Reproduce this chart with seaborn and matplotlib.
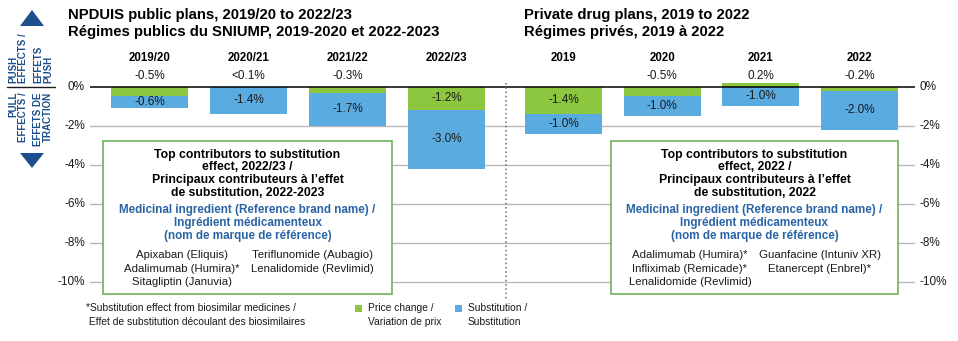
import matplotlib
matplotlib.use("Agg")
import matplotlib.pyplot as plt
import matplotlib.transforms as mtransforms
import seaborn as sns
import pandas as pd
from matplotlib.patches import Rectangle, Polygon
from matplotlib.lines import Line2D

# ---------------- data ----------------
public_periods = ["2019/20", "2020/21", "2021/22", "2022/23"]
public_price = [-0.5, 0.0, -0.3, -1.2]
public_subst = [-0.6, -1.4, -1.7, -3.0]

private_periods = ["2019", "2020", "2021", "2022"]
private_price = [-1.4, -0.5, 0.2, -0.2]
private_subst = [-1.0, -1.0, -1.0, -2.0]

y_ticks = [0, -2, -4, -6, -8, -10]
y_tick_labels = ["0%", "-2%", "-4%", "-6%", "-8%", "-10%"]

public_title = ["NPDUIS public plans, 2019/20 to 2022/23",
                "Régimes publics du SNIUMP, 2019-2020 et 2022-2023"]
private_title = ["Private drug plans, 2019 to 2022",
                 "Régimes privés, 2019 à 2022"]

public_box_title = ["Top contributors to substitution", "effect, 2022/23 /",
                    "Principaux contributeurs à l’effet", "de substitution, 2022-2023"]
private_box_title = ["Top contributors to substitution", "effect, 2022 /",
                     "Principaux contributeurs à l’effet", "de substitution, 2022"]
box_subtitle = ["Medicinal ingredient (Reference brand name) /",
                "Ingrédient médicamenteux", "(nom de marque de référence)"]
public_drugs_left = ["Apixaban (Eliquis)", "Adalimumab (Humira)*", "Sitagliptin (Januvia)"]
public_drugs_right = ["Teriflunomide (Aubagio)", "Lenalidomide (Revlimid)"]
private_drugs_left = ["Adalimumab (Humira)*", "Infliximab (Remicade)*", "Lenalidomide (Revlimid)"]
private_drugs_right = ["Guanfacine (Intuniv XR)", "Etanercept (Enbrel)*"]

footnote = ["*Substitution effect from biosimilar medicines /",
            " Effet de substitution découlant des biosimilaires"]
legend_price = ["Price change /", "Variation de prix"]
legend_subst = ["Substitution /", "Substitution"]

# ---------------- style ----------------
GREEN = "#8dc63f"
BLUE = "#5aace0"
NAVY = "#1d4f8c"
BOXBLUE = "#2a64a6"
BOXGREEN = "#79b86a"
GRID = "#b8b8b8"
TXT = "#1a1a1a"

sns.set_theme(style="white")
plt.rcParams["font.family"] = ["Liberation Sans", "DejaVu Sans"]

W, H = 958, 341
fig = plt.figure(figsize=(W / 100, H / 100), dpi=100)
fig.patch.set_facecolor("white")


def fx(x):
    return x / W


def fy(y):
    return 1 - y / H


Y0, S = 86.7, 19.5  # pixel of 0% and pixels per percentage point


def yv(py):
    return (Y0 - py) / S


ax_top, ax_bot = 70, 300
axL = fig.add_axes([fx(90), fy(ax_bot), (506 - 90) / W, (ax_bot - ax_top) / H])
axR = fig.add_axes([fx(506), fy(ax_bot), (915 - 506) / W, (ax_bot - ax_top) / H])
XL = (-0.601, 3.601)
XR = (-0.583, 3.562)


def fmt(v):
    if abs(v) < 0.1:
        return "<0.1%"
    return f"{v:.1f}%"


def draw_panel(ax, periods, price, subst):
    df = pd.DataFrame({"period": periods, "price": price, "subst": subst})
    df["total"] = df["price"].clip(upper=0) + df["subst"]
    sns.barplot(data=df, x="period", y="total", order=periods, color=BLUE,
                saturation=1, width=0.78, errorbar=None, linewidth=0, ax=ax, zorder=2)
    sns.barplot(data=df, x="period", y="price", order=periods, color=GREEN,
                saturation=1, width=0.78, errorbar=None, linewidth=0, ax=ax, zorder=2)
    for i, row in df.iterrows():
        ax.text(i, yv(58), row["period"], ha="center", va="center",
                fontsize=8.3, fontweight="bold", color="black", clip_on=False)
        if abs(row["price"]) >= 1.0:
            ax.text(i, row["price"] / 2, fmt(row["price"]), ha="center", va="center",
                    fontsize=8.5, color=TXT, zorder=4)
        else:
            ax.text(i, yv(76), fmt(row["price"]), ha="center", va="center",
                    fontsize=8.5, color=TXT, clip_on=False)
        mid = (min(row["price"], 0) + row["total"]) / 2
        ax.text(i, mid, fmt(row["subst"]), ha="center", va="center",
                fontsize=8.5, color=TXT, zorder=4)


draw_panel(axL, public_periods, public_price, public_subst)
draw_panel(axR, private_periods, private_price, private_subst)
axL.set_xlim(*XL)
axR.set_xlim(*XR)

for ax in (axL, axR):
    ax.set_ylim(yv(ax_bot), yv(ax_top))
    ax.set_xlabel("")
    ax.set_ylabel("")
    ax.set_xticks([])
    ax.set_yticks([])
    for sp in ax.spines.values():
        sp.set_visible(False)
    ax.patch.set_alpha(0)
    for t in y_ticks:
        if t == 0:
            ax.axhline(t, color="black", lw=1.1, zorder=3)
        else:
            ax.axhline(t, color=GRID, lw=1.0, zorder=0.5)

# y tick labels (left on public panel, right on private panel)
offL = mtransforms.offset_copy(axL.get_yaxis_transform(), fig=fig, x=-5, y=0, units="dots")
offR = mtransforms.offset_copy(axR.get_yaxis_transform(), fig=fig, x=5, y=0, units="dots")
for t, lab in zip(y_ticks, y_tick_labels):
    axL.text(0, t, lab, transform=offL, ha="right", va="center", fontsize=8.5,
             color=TXT, clip_on=False)
    axR.text(1, t, lab, transform=offR, ha="left", va="center", fontsize=8.5,
             color=TXT, clip_on=False)

# dotted divider
xl = axR.get_xlim()[0]
axR.plot([xl, xl], [yv(83), yv(ax_bot)], ls=(0, (1, 1.8)), color="#4a6f9a",
         lw=1.1, clip_on=False, zorder=3)

# ---------------- titles ----------------
for k, line in enumerate(public_title):
    fig.text(fx(68), fy(15 + 17 * k), line, ha="left", va="center",
             fontsize=10.7, fontweight="bold", color="black")
for k, line in enumerate(private_title):
    fig.text(fx(524), fy(15 + 17 * k), line, ha="left", va="center",
             fontsize=10.7, fontweight="bold", color="black")


# ---------------- boxes ----------------
def draw_box(x0, x1, title, left_col, right_col, lc, rc):
    y0, y1 = 141, 294
    fig.add_artist(Rectangle((fx(x0), fy(y1)), (x1 - x0) / W, (y1 - y0) / H,
                             transform=fig.transFigure, facecolor="white",
                             edgecolor=BOXGREEN, lw=1.3, zorder=5))
    cx = (x0 + x1) / 2
    for k, line in enumerate(title):
        fig.text(fx(cx), fy(155 + 12.5 * k), line, ha="center", va="center",
                 fontsize=8.8, fontweight="bold", color="black", zorder=6)
    for k, line in enumerate(box_subtitle):
        fig.text(fx(cx), fy(210 + 13 * k), line, ha="center", va="center",
                 fontsize=8.4, fontweight="bold", color=BOXBLUE, zorder=6)
    for k, line in enumerate(left_col):
        fig.text(fx(lc), fy(255 + 13.5 * k), line, ha="center", va="center",
                 fontsize=8.2, color=TXT, zorder=6)
    for k, line in enumerate(right_col):
        fig.text(fx(rc), fy(255 + 13.5 * k), line, ha="center", va="center",
                 fontsize=8.2, color=TXT, zorder=6)


draw_box(103, 392, public_box_title, public_drugs_left, public_drugs_right, 182, 312)
draw_box(611, 898, private_box_title, private_drugs_left, private_drugs_right, 690, 820)

# ---------------- footnote & legend ----------------
for k, line in enumerate(footnote):
    fig.text(fx(86), fy(308 + 14 * k), line, ha="left", va="center",
             fontsize=7.4, color=TXT)
for sx, col, lines in ((358, GREEN, legend_price), (458, BLUE, legend_subst)):
    fig.add_artist(Rectangle((fx(sx - 3.5), fy(308 + 3.5)), 7 / W, 7 / H,
                             transform=fig.transFigure, facecolor=col,
                             edgecolor="none", zorder=5))
    for k, line in enumerate(lines):
        fig.text(fx(sx + 10), fy(308 + 14 * k), line, ha="left", va="center",
                 fontsize=7.4, color=TXT)

# ---------------- push / pull indicator ----------------
fig.add_artist(Polygon([(fx(20), fy(26)), (fx(44), fy(26)), (fx(32), fy(10))],
                       closed=True, transform=fig.transFigure, facecolor=NAVY,
                       edgecolor="none"))
fig.add_artist(Polygon([(fx(20), fy(153)), (fx(44), fy(153)), (fx(32), fy(168))],
                       closed=True, transform=fig.transFigure, facecolor=NAVY,
                       edgecolor="none"))
fig.add_artist(Line2D([fx(7), fx(55)], [fy(87), fy(87)], transform=fig.transFigure,
                      color="#1a1a1a", lw=1.0))
for xp, txt in ((13, "PUSH"), (23, "EFFECTS /"), (38, "EFFETS"), (48, "PUSH")):
    fig.text(fx(xp), fy(83), txt, rotation=90, ha="center", va="bottom",
             fontsize=7, fontweight="bold", color=NAVY)
for xp, txt in ((13, "PULL"), (23, "EFFECTS /"), (38, "EFFETS DE"), (48, "TRACTION")):
    fig.text(fx(xp), fy(92), txt, rotation=90, ha="center", va="top",
             fontsize=7, fontweight="bold", color=NAVY)

fig.savefig("out.png", dpi=100, facecolor="white")
